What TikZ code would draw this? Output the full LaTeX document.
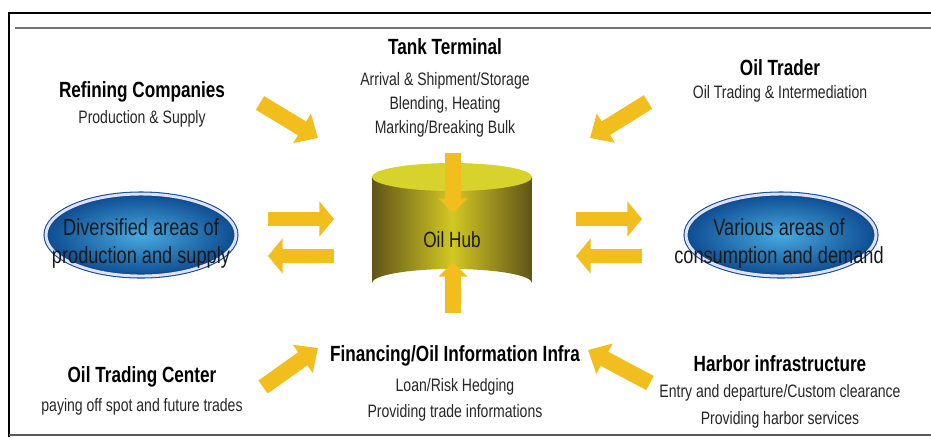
\documentclass[tikz,border=0pt]{standalone}
\usepackage{fontspec}
\setmainfont{Liberation Sans}[FakeStretch=0.78]
\usetikzlibrary{positioning,arrows.meta,shapes.geometric}
\definecolor{arrowgold}{RGB}{242,190,30}
\definecolor{olivedark}{RGB}{96,84,24}
\definecolor{olivelight}{RGB}{210,200,34}
\definecolor{hubtop}{RGB}{216,210,44}
\definecolor{areablue}{RGB}{40,155,220}
\definecolor{areadeep}{RGB}{14,76,145}
\begin{document}
\begin{tikzpicture}[x=0.75pt, y=-0.75pt, thick,
  title/.style={font=\fontsize{16.5}{19}\selectfont\bfseries, inner sep=1pt},
  info/.style={font=\fontsize{13.5}{18}\selectfont, align=center, inner sep=1pt, text=black!85},
  fat/.style={draw=arrowgold, line width=12pt, -{Triangle[length=14pt,width=25pt]}},
  areashape/.style={draw=areadeep, line width=0.8pt, double=blue!12!white, double distance=2.2pt,
    inner color=areablue!85!white, outer color=areadeep},
  areatext/.style={font=\fontsize{17.5}{21}\selectfont, align=center, text=black!90, inner sep=0pt}]
  \useasboundingbox (0,0) rectangle (931,437);

  % Marco
  \draw[line width=1.6pt] (9,437) -- (9,13) -- (931,13);
  \draw[black!55, line width=1.2pt] (15,28) -- (931,28);
  \draw[black!65, line width=1.6pt] (9,435) -- (931,435);

  % Tanque (Oil Hub)
  \shade[left color=olivedark, right color=olivedark, middle color=olivelight]
    (372,177) -- (372,283) arc[start angle=180, end angle=360, x radius=80, y radius=14]
    -- (532,177) -- cycle;
  \fill[hubtop] (452,177) ellipse[x radius=80, y radius=14];
  \node[font=\fontsize{16.5}{18}\selectfont, text=black!90] (hub) at (452,240) {Oil Hub};

  % Areas
  \path[areashape] (141,235) ellipse[x radius=95, y radius=41];
  \path[areashape] (781,235) ellipse[x radius=95, y radius=41];
  \node[areatext] (supply) at (141,243) {Diversified areas of\\production and supply};
  \node[areatext] (demand) at (779,243) {Various areas of\\consumption and demand};

  % Nodos de texto
  \node[title] (tank) at (445,47) {Tank Terminal};
  \node[info, below=10.5pt of tank] (tankinfo) {Arrival \& Shipment/Storage\\Blending, Heating\\Marking/Breaking Bulk};
  \node[title] (refine) at (142,92) {Refining Companies};
  \node[info, below=3pt of refine] (refineinfo) {Production \& Supply};
  \node[title] (trader) at (780,68) {Oil Trader};
  \node[info, below=4pt of trader] (traderinfo) {Oil Trading \& Intermediation};
  \node[title] (center) at (142,377) {Oil Trading Center};
  \node[info, below=5.5pt of center] (centerinfo) {paying off spot and future trades};
  \node[title] (finance) at (455,356) {Financing/Oil Information Infra};
  \node[info, below=6.5pt of finance, font=\fontsize{13.5}{19.5}\selectfont] (financeinfo) {Loan/Risk Hedging\\Providing trade informations};
  \node[title] (harbor) at (780,364) {Harbor infrastructure};
  \node[info, below=6.5pt of harbor, font=\fontsize{13.5}{20.2}\selectfont] (harborinfo) {Entry and departure/Custom clearance\\Providing harbor services};

  % Extremos de flechas
  \coordinate (tankend) at (453,153);
  \coordinate (hubtopin) at (453,213);
  \coordinate (finend) at (453,313);
  \coordinate (hubbotin) at (453,262);
  \coordinate (refend) at (260,103);
  \coordinate (refin) at (318,138);
  \coordinate (tradend) at (648,102);
  \coordinate (tradin) at (590,138);
  \coordinate (centend) at (263,387);
  \coordinate (centin) at (318,348);
  \coordinate (harbend) at (650,383);
  \coordinate (harbin) at (588,350);
  \coordinate (supout) at (268,219);
  \coordinate (supoutb) at (334,219);
  \coordinate (supin) at (334,256);
  \coordinate (supinb) at (268,256);
  \coordinate (demout) at (576,219);
  \coordinate (demoutb) at (642,219);
  \coordinate (demin) at (642,256);
  \coordinate (deminb) at (576,256);

  % Flechas
  \draw[fat, -{Triangle[length=11pt,width=21pt]}] (tankend) -- (hubtopin);
  \draw[fat, -{Triangle[length=11pt,width=21pt]}] (finend) -- (hubbotin);
  \draw[fat] (refend) -- (refin);
  \draw[fat] (tradend) -- (tradin);
  \draw[fat] (centend) -- (centin);
  \draw[fat] (harbend) -- (harbin);
  \draw[fat, line width=11pt, -{Triangle[length=11pt,width=26pt]}] (supout) -- (supoutb);
  \draw[fat, line width=11pt, -{Triangle[length=11pt,width=26pt]}] (supin) -- (supinb);
  \draw[fat, line width=11pt, -{Triangle[length=11pt,width=26pt]}] (demout) -- (demoutb);
  \draw[fat, line width=11pt, -{Triangle[length=11pt,width=26pt]}] (demin) -- (deminb);
\end{tikzpicture}
\end{document}
